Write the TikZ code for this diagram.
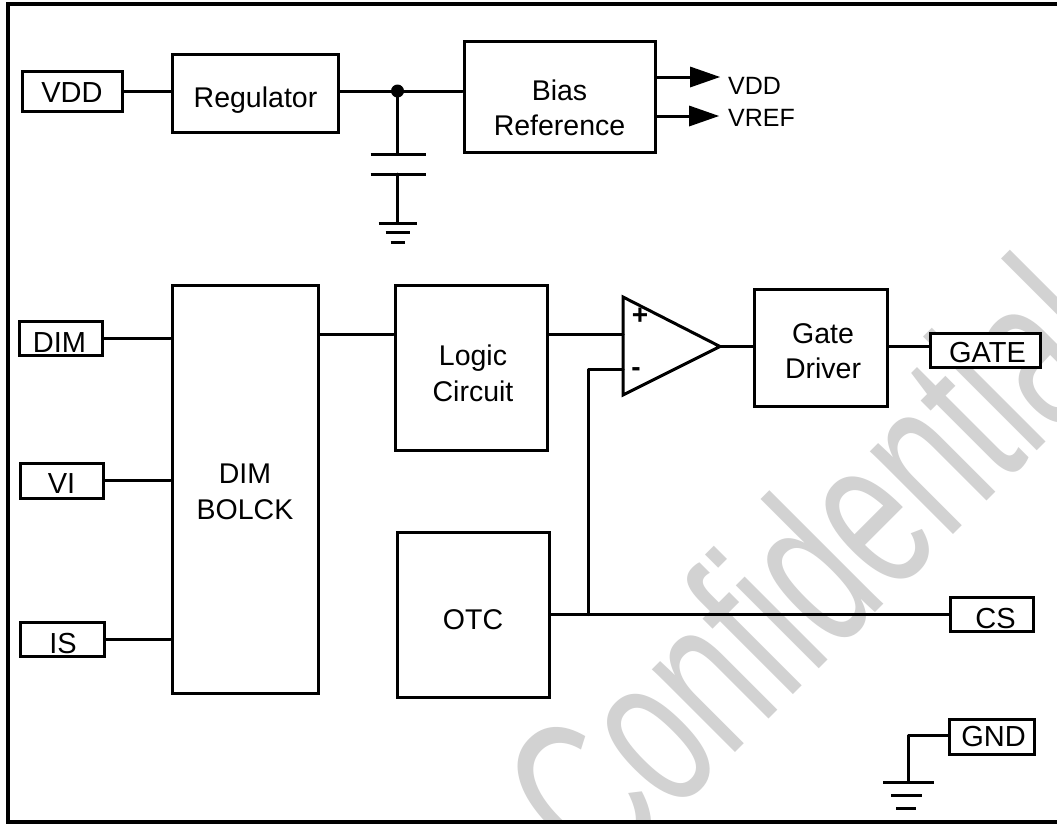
\documentclass[tikz,border=0pt]{standalone}
\usepackage{fontspec}
\setmainfont{Liberation Sans}
\usepackage{array}
\definecolor{wmgray}{HTML}{D2D2D2}
\newcommand{\tl}[3]{\makebox[0pt][c]{\hspace*{#1pt}\hspace*{#1pt}\raisebox{#2pt}[0pt][0pt]{\begin{tabular}[b]{@{}c@{}}#3\end{tabular}}}}
\tikzset{
  wire/.style={line width=3pt,line cap=round,line join=round},
  box/.style={draw,fill=white,line width=3pt,rectangle,inner sep=0pt,font=\fontsize{28.5}{35.5}\selectfont},
  pin/.style={box,font=\fontsize{29}{36}\selectfont},
  small/.style={inner sep=0pt,font=\fontsize{25}{30}\selectfont,anchor=base west},
  sign/.style={inner sep=0pt,font=\bfseries\fontsize{28}{30}\selectfont},
  gnd/.style={line width=3pt},
  dotn/.style={circle,fill=black,inner sep=0pt,minimum size=13pt}
}
\begin{document}
\begin{tikzpicture}[x=1pt,y=-1pt]
\useasboundingbox (0,0) rectangle (1057,823);
\fill[white] (0,0) rectangle (1057,823);
\begin{scope}
\clip (0,0) rectangle (1057,823);
\node[rotate=45,xscale=.64,anchor=base west,inner sep=0pt,text=wmgray,font=\fontsize{222}{222}\selectfont] (wm) at (600,888) {Confidential};
\end{scope}
% frame
\coordinate (ftr) at (1057,4); \coordinate (ftl) at (7.5,4);
\coordinate (fbl) at (7.5,821.5); \coordinate (fbr) at (1057,821.5);
\draw[line width=4pt,line join=miter] (ftr) -- (ftl) -- (fbl) -- (fbr);
% top rail
\coordinate (jn) at (397.5,91);
\coordinate (capa) at (397.5,154); \coordinate (capb) at (397.5,174); \coordinate (g1) at (397.5,223);
% blocks
\node[pin,minimum width=100pt,minimum height=40pt] (vdd) at (72,91) {\tl{0}{-11}{VDD}};
\node[box,minimum width=166pt,minimum height=78pt] (reg) at (255.5,93) {\tl{0}{-14}{Regulator}};
\node[box,minimum width=191pt,minimum height=111pt] (bias) at (559.5,96.5) {\tl{0}{-39}{Bias\\Reference}};
\node[box,minimum width=146pt,minimum height=408pt] (dimb) at (245,489) {\tl{0}{-30}{DIM\\BOLCK}};
\node[box,minimum width=152pt,minimum height=165pt] (logic) at (471,367.5) {\tl{2}{-33.5}{Logic\\Circuit}};
\node[box,minimum width=152pt,minimum height=165pt] (otc) at (473,614.5) {\tl{0}{-15}{OTC}};
\node[box,minimum width=133pt,minimum height=117pt] (gated) at (821,347.5) {\tl{2}{-31}{Gate\\Driver}};
\node[pin,minimum width=83pt,minimum height=34pt] (dim) at (60.5,338) {\tl{-1}{-14}{DIM}};
\node[pin,minimum width=83pt,minimum height=35pt] (vi) at (61.5,480.5) {\tl{0}{-13}{VI}};
\node[pin,minimum width=84pt,minimum height=34pt] (is) at (62,639) {\tl{1}{-14}{IS}};
\node[pin,minimum width=110pt,minimum height=34pt] (gate) at (985.5,350) {\tl{2}{-12}{GATE}};
\node[pin,minimum width=83pt,minimum height=34pt] (cs) at (991.5,614) {\tl{4}{-14}{CS}};
\node[pin,minimum width=85pt,minimum height=35pt] (gndp) at (991.5,737) {\tl{2}{-9.5}{GND}};
\draw[wire] (vdd.east) -- (reg.west |- vdd.east);
\draw[wire] (reg.east |- jn) -- (jn) -- (bias.west |- jn);
\node[dotn] (jd) at (jn) {};
% capacitor
\draw[wire] (jn) -- (capa);
\draw[wire] (capb) -- (g1);
\draw[gnd] ([xshift=-27pt]capa) -- ([xshift=28pt]capa);
\draw[gnd] ([xshift=-27pt]capb) -- ([xshift=28pt]capb);
\draw[gnd] ([xshift=-19pt]g1) -- ([xshift=19pt]g1);
\draw[gnd] ([xshift=-12pt,yshift=-9.5pt]g1) -- ([xshift=12pt,yshift=-9.5pt]g1);
\draw[gnd] ([xshift=-7pt,yshift=-19pt]g1) -- ([xshift=7pt,yshift=-19pt]g1);
% outputs
\coordinate (o1) at (690,77); \coordinate (o1t) at (720,77);
\coordinate (o2) at (689,116); \coordinate (o2t) at (719,116);
\draw[wire] (bias.east |- o1) -- (o1);
\draw[wire] (bias.east |- o2) -- (o2);
\fill ([yshift=-10.5pt]o1) -- (o1t) -- ([yshift=10.5pt]o1) -- cycle;
\fill ([yshift=-10.5pt]o2) -- (o2t) -- ([yshift=10.5pt]o2) -- cycle;
\node[small] (lvdd) at (728,94.5) {VDD};
\node[small] (lvref) at (728,126.5) {VREF};
% inputs to DIM block
\draw[wire] (dim.east) -- (dimb.west |- dim.east);
\draw[wire] (vi.east) -- (dimb.west |- vi.east);
\draw[wire] (is.east) -- (dimb.west |- is.east);
% comparator
\coordinate (cpt) at (623,297); \coordinate (cpb) at (623,395); \coordinate (ctip) at (720,346.5);
\coordinate (cin) at (623,334); \coordinate (cim) at (623,369); \coordinate (cbr) at (588,369);
\draw[line width=3pt,line join=miter] (cpt) -- (ctip) -- (cpb) -- cycle;
\node[sign] (plus) at (640,316) {+};
\node[sign] (minus) at (636,372) {-};
\draw[wire] (dimb.east |- cin) -- (logic.west |- cin);
\draw[wire] (logic.east |- cin) -- (cin);
\draw[wire] (ctip) -- (gated.west |- ctip);
\draw[wire] (gated.east |- ctip) -- (gate.west |- ctip);
% feedback
\coordinate (cbj) at (588,614.5);
\draw[wire] (cim) -- (cbr) -- (cbj);
\draw[wire] (otc.east |- cbj) -- (cs.west |- cbj);
% ground
\coordinate (g2c) at (908,735); \coordinate (g2) at (908,782);
\draw[wire] (gndp.west |- g2c) -- (g2c) -- (g2);
\draw[gnd] ([xshift=-25pt]g2) -- ([xshift=26pt]g2);
\draw[gnd] ([xshift=-17pt,yshift=-13pt]g2) -- ([xshift=14pt,yshift=-13pt]g2);
\draw[gnd] ([xshift=-12pt,yshift=-26pt]g2) -- ([xshift=8pt,yshift=-26pt]g2);
\end{tikzpicture}
\end{document}
